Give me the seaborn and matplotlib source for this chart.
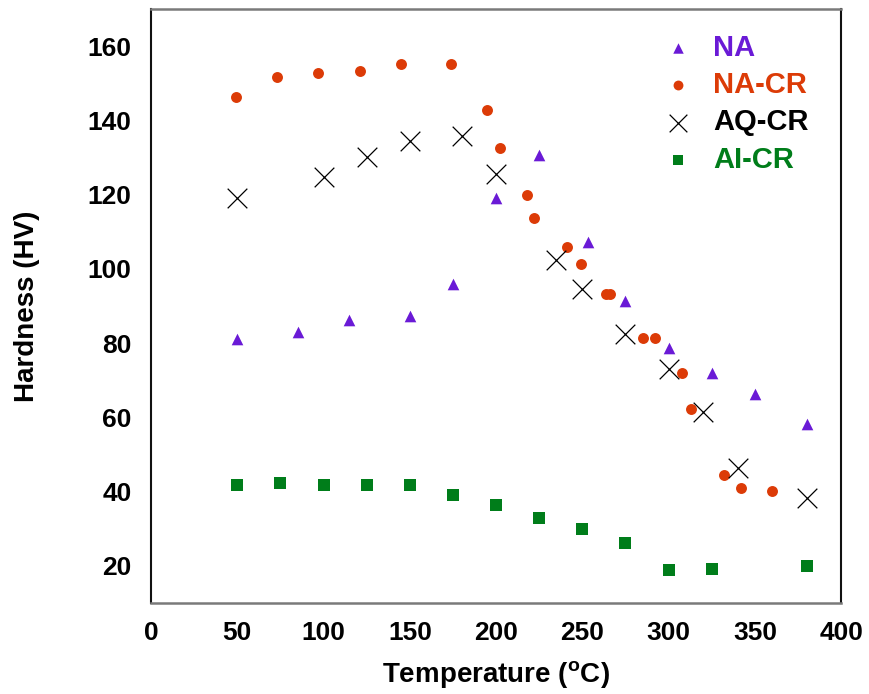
import matplotlib
matplotlib.use("Agg")
import matplotlib.pyplot as plt
import seaborn as sns
import pandas as pd

# Hardness after ageing at each temperature, per treatment
na_temp = [50, 85, 115, 150, 175, 200, 225, 253, 275, 300, 325, 350, 380]
na_hv = [81.0, 83.0, 86.3, 87.2, 96.0, 119.2, 130.6, 107.3, 91.3, 78.8, 71.9, 66.4, 58.3]

nacr_temp = [49, 73, 97, 121, 145, 174, 195, 202, 218, 222, 241, 249, 264, 266,
             285, 292, 308, 313, 332, 342, 360]
nacr_hv = [146.4, 151.6, 152.8, 153.3, 155.1, 155.1, 142.7, 132.7, 119.8, 113.6,
           105.9, 101.2, 93.2, 93.2, 81.5, 81.5, 71.9, 62.4, 44.4, 41.0, 40.3]

aqcr_temp = [50, 100, 125, 150, 180, 200, 235, 250, 275, 300, 320, 340, 380]
aqcr_hv = [119.2, 124.8, 130.2, 134.4, 135.8, 125.5, 102.3, 94.6, 82.4, 73.0,
           61.5, 46.3, 38.2]

aicr_temp = [50, 75, 100, 125, 150, 175, 200, 225, 250, 275, 300, 325, 380]
aicr_hv = [41.7, 42.4, 41.9, 41.9, 41.9, 39.2, 36.3, 32.8, 30.0, 26.3, 19.0, 19.3, 20.0]

series_names = ["NA", "NA-CR", "AQ-CR", "AI-CR"]
x_ticks = [0, 50, 100, 150, 200, 250, 300, 350, 400]
y_ticks = [20, 40, 60, 80, 100, 120, 140, 160]

colors = {"NA": "#6a1ad6", "NA-CR": "#dc3b07", "AQ-CR": "#000000", "AI-CR": "#007d1a"}
markers = {"NA": "^", "NA-CR": "o", "AQ-CR": "x", "AI-CR": "s"}
sizes = {"NA": 70, "NA-CR": 62, "AQ-CR": 200, "AI-CR": 72}

frames = []
for name, t, h in zip(series_names,
                      [na_temp, nacr_temp, aqcr_temp, aicr_temp],
                      [na_hv, nacr_hv, aqcr_hv, aicr_hv]):
    frames.append(pd.DataFrame({"Temperature": t, "Hardness": h, "Series": name}))
df = pd.concat(frames, ignore_index=True)

sns.set_style("white")
plt.rcParams["font.family"] = ["Liberation Sans", "DejaVu Sans"]
plt.rcParams["text.color"] = "black"
plt.rcParams["axes.labelcolor"] = "black"
plt.rcParams["xtick.color"] = "black"
plt.rcParams["ytick.color"] = "black"
plt.rcParams["mathtext.fontset"] = "custom"
plt.rcParams["mathtext.bf"] = "Liberation Sans:bold"
plt.rcParams["mathtext.rm"] = "Liberation Sans:bold"

fig = plt.figure(figsize=(8.7, 6.94), dpi=100)
ax = fig.add_axes([0.1736, 0.131, 0.7932, 0.856])

for name in series_names:
    sub = df[df["Series"] == name]
    if markers[name] == "x":
        sns.scatterplot(data=sub, x="Temperature", y="Hardness", ax=ax,
                        marker="x", s=sizes[name], color=colors[name],
                        linewidth=0.9, label=name, zorder=3)
    else:
        sns.scatterplot(data=sub, x="Temperature", y="Hardness", ax=ax,
                        marker=markers[name], s=sizes[name], color=colors[name],
                        linewidth=0, label=name, zorder=3)

ax.set_xlim(0, 400)
ax.set_ylim(10, 170)
ax.set_xticks(x_ticks)
ax.set_yticks(y_ticks)
ax.set_xticklabels([str(v) for v in x_ticks], fontsize=19, fontweight="bold")
ax.set_yticklabels([str(v) for v in y_ticks], fontsize=19, fontweight="bold")
ax.tick_params(axis="both", direction="in", length=10, width=1.2,
               color="#222222", labelcolor="black")
ax.tick_params(axis="x", pad=13)
ax.tick_params(axis="y", pad=14)

ax.set_xlabel(r"Temperature ($^{\mathrm{o}}$C)", fontsize=20, fontweight="bold",
              labelpad=10, color="black")
ax.set_ylabel("Hardness (HV)", fontsize=20, fontweight="bold", labelpad=34,
              color="black")

for side in ["left", "right"]:
    ax.spines[side].set_color("#111111")
    ax.spines[side].set_linewidth(1.5)
for side in ["top", "bottom"]:
    ax.spines[side].set_color("#7a7a7a")
    ax.spines[side].set_linewidth(1.8)

leg = ax.legend(loc="upper right", bbox_to_anchor=(0.978, 0.988), frameon=False,
                prop={"weight": "bold", "size": 21}, handletextpad=0.2,
                labelspacing=0.32, borderaxespad=0.2, markerscale=0.9,
                labelcolor=[colors[n] for n in series_names])

fig.savefig("out.png", dpi=100)
